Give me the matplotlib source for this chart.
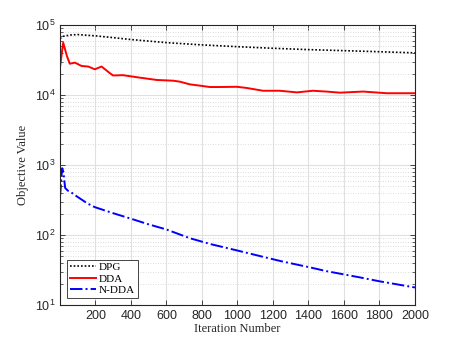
import numpy as np
import matplotlib
matplotlib.use("Agg")
import matplotlib.pyplot as plt
from matplotlib.ticker import LogLocator, FixedLocator, NullFormatter

# Data
dpg_iter = [1, 20, 60, 100, 200, 300, 400, 600, 800, 1000, 1200, 1400, 1600, 1800, 2000]
dpg_val = [6.4e4, 6.9e4, 7.2e4, 7.3e4, 7.0e4, 6.6e4, 6.2e4, 5.6e4, 5.2e4, 4.9e4, 4.65e4, 4.45e4, 4.3e4, 4.15e4, 4.0e4]

dda_iter = [1, 19, 40, 56, 85, 122, 160, 197, 235, 282, 300, 355, 451, 546, 640, 676, 732, 789, 845, 900, 997, 1053,
            1144, 1239, 1335, 1425, 1500, 1577, 1707, 1842, 1972, 2000]
dda_val = [2.5e4, 5.6e4, 3.6e4, 2.8e4, 2.9e4, 2.6e4, 2.55e4, 2.33e4, 2.55e4, 2.05e4, 1.9e4, 1.92e4, 1.77e4, 1.64e4, 1.6e4, 1.55e4,
           1.42e4, 1.36e4, 1.3e4, 1.3e4, 1.31e4, 1.26e4, 1.15e4, 1.15e4, 1.09e4, 1.15e4, 1.12e4, 1.08e4, 1.12e4, 1.06e4, 1.06e4, 1.06e4]

ndda_iter = [1, 13, 20, 30, 45, 56, 100, 158, 197, 300, 394, 500, 600, 732, 850, 1000, 1127, 1250, 1408, 1500, 1595, 1700, 1800, 1900, 2000]
ndda_val = [3.5e2, 9.0e2, 8.0e2, 4.7e2, 4.3e2, 4.2e2, 3.5e2, 2.8e2, 2.5e2, 2.05e2, 1.73e2, 1.42e2, 1.2e2, 9.0e1, 7.4e1, 6.0e1, 5.0e1, 4.2e1,
             3.45e1, 3.05e1, 2.75e1, 2.45e1, 2.18e1, 1.97e1, 1.78e1]

xticks = [200, 400, 600, 800, 1000, 1200, 1400, 1600, 1800, 2000]

serif = ["Liberation Serif", "DejaVu Serif"]
sans = ["Liberation Sans", "DejaVu Sans"]

fig = plt.figure(figsize=(4.58, 3.43), dpi=100)
ax = fig.add_axes([60/458, 1 - 305/343, 355/458, 280/343])

ax.semilogy(dpg_iter, dpg_val, color="black", linestyle=(0, (1, 1.2)), linewidth=1.2, label="DPG")
ax.semilogy(dda_iter, dda_val, color="#ff0000", linestyle="-", linewidth=1.4, label="DDA")
ax.semilogy(ndda_iter, ndda_val, color="#0000ff", linestyle="-.", linewidth=1.4, label="N-DDA")

ax.set_xlim(1, 2000)
ax.set_ylim(10, 1e5)
ax.xaxis.set_major_locator(FixedLocator(xticks))
ax.yaxis.set_major_locator(LogLocator(base=10, numticks=10))
ax.yaxis.set_minor_locator(LogLocator(base=10, subs=np.arange(2, 10), numticks=50))
ax.yaxis.set_minor_formatter(NullFormatter())

ax.grid(True, which="major", color="#e0e0e0", linestyle="-", linewidth=0.8)
ax.grid(True, which="minor", axis="y", color="#d0d0d0", linestyle=(0, (1, 2)), linewidth=0.6)
ax.set_axisbelow(True)

ax.tick_params(which="both", direction="in", top=True, right=True, labelsize=9, colors="#262626")
ax.tick_params(which="major", length=3.5, width=0.6)
ax.tick_params(which="minor", length=2, width=0.5)
for lab in ax.get_xticklabels() + ax.get_yticklabels():
    lab.set_fontfamily(sans)
for sp in ax.spines.values():
    sp.set_color("#262626")
    sp.set_linewidth(0.8)

ax.set_xlabel("Iteration Number", fontfamily=serif, fontsize=9, labelpad=1, color="#262626")
ax.set_ylabel("Objective Value", fontfamily=serif, fontsize=9, labelpad=4, color="#262626")

leg = ax.legend(loc="lower left", prop={"family": serif, "size": 8}, frameon=True, fancybox=False,
                edgecolor="#262626", framealpha=1, borderpad=0.25, labelspacing=0.15, handlelength=2.3,
                handletextpad=0.3, borderaxespad=0.65)
leg.get_frame().set_linewidth(0.6)

fig.savefig("out.png", dpi=100)
